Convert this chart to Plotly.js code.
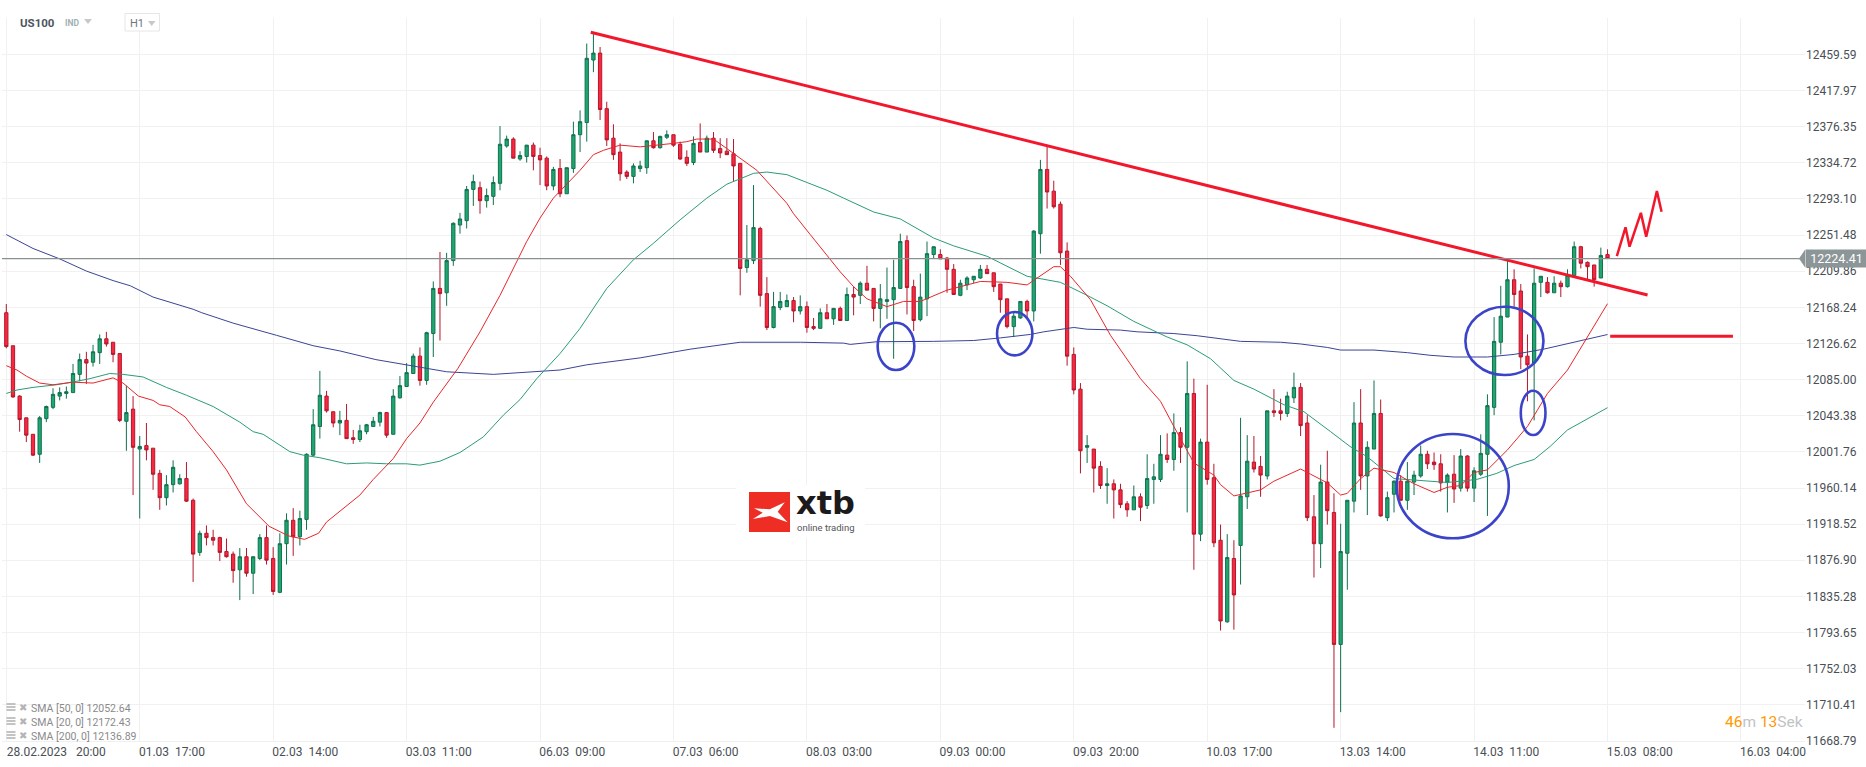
<!DOCTYPE html>
<html><head><meta charset="utf-8">
<script src="https://cdn.plot.ly/plotly-3.0.1.min.js"></script>
<style>html,body{margin:0;padding:0;background:#fff;overflow:hidden}#c{width:1866px;height:767px}</style>
</head><body><div id="c"></div>
<script>
// Hourly bars (0 = 28.02.2023 20:00)
const open_ = [12162,12124,12066,12041,12022,11999,12040,12053,12066,12069,12070,12091,12108,12105,12116,12132,12128,12115,12037,12051,
12005,12009,12006,11977,11949,11964,11965,11971,11946,11886,11908,11903,11903,11887,11884,11866,11881,11862,11879,11903,
11879,11840,11896,11923,11904,11924,11998,12031,12066,12048,12035,12038,12018,12016,12025,12031,12036,12047,12022,12064,
12077,12092,12112,12084,12138,12190,12185,12222,12263,12268,12304,12306,12291,12296,12311,12354,12362,12339,12342,12355,
12343,12340,12308,12328,12299,12328,12367,12381,12453,12461,12397,12363,12347,12324,12319,12328,12329,12360,12352,12364,
12367,12356,12341,12335,12358,12347,12363,12351,12348,12345,12334,12214,12222,12259,12184,12145,12168,12169,12176,12164,
12169,12146,12144,12162,12155,12167,12153,12183,12182,12196,12190,12167,12175,12177,12190,12245,12192,12154,12178,12229,
12229,12225,12212,12182,12194,12200,12202,12212,12208,12195,12178,12146,12156,12175,12164,12253,12327,12302,12287,12233,
12114,12074,12007,12005,11985,11963,11965,11958,11942,11935,11950,11940,11970,11970,11998,11993,12024,12007,12069,11907,
12013,11972,11900,11806,11879,11894,11950,11990,11985,11974,12049,12049,12046,12064,12076,12035,11927,11896,11967,11932,
11780,11885,11945,12035,11974,12005,12046,11926,11953,11968,11946,11967,11974,11999,11990,11988,11967,11976,11960,11997,
11960,11976,11999,12053,12128,12157,12200,12187,12112,12104,12197,12197,12185,12196,12192,12205,12238,12220,12217,12202,12229];
const high = [12172,12124,12067,12041,12022,12043,12055,12075,12076,12077,12103,12115,12117,12125,12137,12140,12128,12115,12078,12066,
12020,12035,12006,11981,11975,11992,11976,11990,11948,11911,11917,11912,11904,11902,11887,11891,11891,11881,11907,11917,
11892,11908,11931,11937,11934,12000,12051,12095,12072,12048,12049,12057,12027,12033,12034,12042,12048,12047,12074,12089,
12104,12115,12122,12140,12198,12232,12231,12266,12277,12308,12321,12313,12305,12319,12377,12366,12364,12348,12355,12358,
12352,12342,12330,12339,12329,12382,12395,12472,12483,12468,12405,12379,12357,12326,12334,12337,12360,12370,12366,12372,
12367,12359,12349,12365,12380,12366,12370,12363,12363,12362,12334,12263,12309,12261,12203,12186,12186,12183,12180,12182,
12175,12156,12167,12172,12167,12169,12191,12192,12198,12216,12190,12195,12214,12223,12253,12251,12200,12207,12244,12238,
12235,12226,12218,12200,12204,12204,12217,12217,12208,12195,12178,12163,12175,12177,12257,12338,12353,12314,12290,12243,
12122,12081,12021,12005,11991,11983,11970,11965,11945,11963,11954,11999,11988,12021,12023,12046,12030,12106,12086,12017,
12079,11988,11918,11907,11900,12041,12021,12020,11997,12049,12074,12063,12071,12093,12081,12044,11952,11987,12003,11954,
11919,11946,12059,12074,12014,12084,12062,11956,11969,11975,11990,11980,12009,12003,12001,11999,11977,11998,12005,11998,
11984,12022,12068,12157,12193,12223,12212,12195,12137,12213,12204,12203,12204,12199,12212,12244,12239,12221,12217,12237,12235];
const low = [12121,12064,12025,12013,11997,11989,12036,12051,12061,12063,12070,12083,12080,12100,12103,12123,12105,12036,12003,11952,
11925,11992,11958,11935,11940,11955,11964,11944,11852,11882,11894,11894,11876,11880,11851,11831,11858,11838,11877,11872,
11837,11839,11872,11882,11894,11912,11996,12017,12047,12030,12021,12017,12011,12013,12022,12031,12031,12018,12022,12063,
12077,12092,12078,12079,12111,12130,12170,12216,12253,12259,12285,12276,12283,12286,12303,12352,12340,12337,12335,12326,
12309,12303,12303,12295,12299,12323,12347,12359,12439,12384,12354,12338,12314,12316,12311,12324,12322,12351,12351,12362,
12353,12338,12331,12332,12347,12347,12346,12340,12344,12313,12182,12208,12218,12169,12142,12144,12165,12169,12151,12160,
12139,12142,12144,12155,12148,12153,12153,12159,12172,12188,12152,12144,12155,12109,12190,12160,12141,12152,12158,12224,
12224,12185,12183,12181,12188,12196,12201,12207,12186,12162,12144,12134,12155,12156,12152,12230,12282,12282,12217,12101,
12068,11977,11989,11955,11959,11942,11925,11937,11927,11935,11922,11936,11942,11967,11989,11980,11989,11932,11866,11899,
11964,11892,11796,11805,11797,11849,11936,11978,11950,11970,12042,12038,12042,12058,12020,11922,11857,11868,11918,11684,
11702,11843,11932,11958,11929,12005,11927,11922,11932,11946,11935,11952,11972,11982,11981,11956,11932,11943,11956,11956,
11944,11974,11928,12044,12114,12157,12169,12097,12060,12038,12180,12184,12185,12180,12191,12205,12213,12200,12192,12202,12224];
const close_ = [12123,12065,12039,12021,11998,12041,12054,12068,12070,12071,12092,12108,12104,12117,12132,12126,12114,12038,12047,12007,
12008,12004,11976,11949,11964,11984,11971,11945,11884,11908,11903,11900,11886,11881,11865,11881,11862,11881,11903,11877,
11841,11896,11923,11904,11925,11999,12033,12067,12049,12035,12038,12017,12016,12026,12033,12037,12047,12021,12066,12078,
12093,12112,12084,12139,12190,12184,12222,12265,12270,12304,12313,12291,12297,12312,12356,12362,12340,12343,12355,12342,
12338,12308,12327,12299,12329,12367,12382,12455,12461,12396,12361,12344,12322,12319,12331,12331,12360,12352,12365,12367,
12355,12339,12334,12357,12347,12363,12349,12346,12344,12331,12213,12223,12260,12182,12145,12169,12175,12176,12164,12169,
12145,12144,12162,12155,12167,12153,12183,12180,12196,12188,12167,12178,12177,12191,12244,12191,12153,12180,12230,12238,
12224,12212,12183,12196,12202,12204,12212,12207,12192,12177,12146,12158,12175,12164,12256,12327,12301,12284,12231,12112,
12073,12003,12009,11983,11963,11965,11958,11941,11935,11950,11938,11971,11973,11999,11993,12024,12007,12069,11907,12013,
11970,11897,11807,11880,11837,11951,11991,11982,11975,12049,12047,12046,12066,12076,12032,11926,11896,11967,11934,11780,
11887,11946,12035,11974,12007,12046,11928,11949,11968,11946,11968,11975,11999,11988,11987,11966,11975,11959,11997,11960,
11980,12000,12055,12129,12158,12200,12183,12111,12102,12196,12204,12185,12196,12192,12205,12238,12219,12215,12200,12228,12224.41];

// Moving averages at the bar positions given
const sma20Bars = [0,1.6,3,5,7,10,13,16,17.5,19.8,22,23,24.5,26.8,28.5,31,33,35,36,39.4,42.3,44.7,46.8,48,53,55,58,60,62,64,67.7,71,74,78,80,82,86,88,89.5,92,95,100,102,103.5,106,108,110,112.5,117,118,120.5,122,125,127,129,132,134.5,137,141,146,150,153,157,158,159.5,162.5,165.5,170,173,175,178,181,182,184,188,190,194,195.5,198,200,201,203,205,208,211,214,216,218,220,222,225,228,231,234,237,240];
const sma20 = [12101,12096,12089,12081,12079,12082,12081,12087,12081,12066,12061,12056,12054,12042,12025,12002,11981,11956,11942,11916,11905,11901,11908,11921,11952,11970,11994,12017,12035,12059,12098,12140,12182,12244,12271,12294,12326,12344,12349,12355,12353,12357,12359,12362,12362,12351,12340,12326,12288,12276,12252,12238,12209,12192,12178,12169,12175,12175,12188,12198,12197,12194,12215,12215,12204,12177,12136,12086,12060,12031,11989,11975,11964,11951,11958,11968,11982,11976,11966,11952,11954,11971,11983,11978,11965,11955,11961,11963,11978,11981,12004,12031,12069,12096,12134,12172.43];
const sma50Bars = [0,1.6,4,7.5,10.5,12.5,15.5,17.5,20.5,24,27,31,35,37,38.5,41,42.5,44.5,47,51,54,57,60,62,65,68,71.5,74.5,77,79.5,83,86,90,94,97,101,105,108,112,114,117,120,123,125.5,130,134,139,142,147,153,158,162,165,169,171,174,177,180.5,184,187,191.5,194.5,198.5,201.4,204,208,216,220.4,223.4,226,229,231.4,234,237,240];
const sma50 = [12069,12073,12076,12079,12083,12086,12092,12091,12088,12076,12067,12054,12036,12025,12022,12010,12002,11998,11995,11988,11989,11988,11988,11986.5,11991,12001,12019,12044,12062,12086,12115,12144,12190,12223,12242,12269,12294,12310,12322.5,12324,12321,12312,12303,12294,12278,12270,12248,12239,12227,12204,12197,12182,12170,12152,12145,12134,12125,12109,12084,12074,12056,12048,12025,12008,11996,11971,11966.5,11970,11977,11986,11993,12008,12027,12040,12052.64];
const sma200Bars = [0,4,8,12,16,18.6,22,28,29.3,34,40.5,46,50,55.4,60.7,66,73,80,83,87,95,102.5,110,119,125.5,126.5,130.5,139,145,149,153.5,155.5,160,162,167,169.5,175,178.5,185,191,194,198,200,205,210,213.4,217,222,226,230.4,234.4,240];
const sma200 = [12252,12236,12224,12210,12199,12193,12180,12166,12162,12150,12136,12124,12118,12108,12101,12094,12091,12094,12096,12102,12110,12120,12128,12128,12127,12125.5,12128.6,12129,12130,12133,12137,12140,12145,12143,12142,12140,12138,12135.5,12129,12128,12126,12122,12119,12119,12116,12113,12111,12111,12114,12120,12127,12136.89];

// Hand-drawn analysis marks
const trendBars = [87.6,246], trendPrices = [12485,12182.4];
const levelBars = [240.4,258.8], levelPrices = [12134.8,12134.8];
const zigBars = [241.4,242.7,243.3,245,245.8,247.4,248.1];
const zigPrices = [12227.3,12260.3,12238,12277,12249.5,12302,12278.3];
const circleBars = [[130.6,136.1],[148.5,153.8],[218.7,230.4],[227,230.7],[208.4,225.2]];
const circlePrices = [[12150.5,12096],[12162.8,12112.9],[12168.9,12090.2],[12072.2,12021.1],[12022.3,11902.2]];

// Axis labels
const xTickBars = [0,20,40,60,80,100,120,140,160,180,200,220,240,260];
const xTickLabels = ['28.02.2023   20:00','01.03  17:00','02.03  14:00','03.03  11:00','06.03  09:00','07.03  06:00','08.03  03:00','09.03  00:00','09.03  20:00','10.03  17:00','13.03  14:00','14.03  11:00','15.03  08:00','16.03  04:00'];
const yTickVals = [12459.59,12417.97,12376.35,12334.72,12293.10,12251.48,12209.86,12168.24,12126.62,12085.00,12043.38,12001.76,11960.14,11918.52,11876.90,11835.28,11793.65,11752.03,11710.41,11668.79];
const legendLines = ['SMA [50, 0] 12052.64','SMA [20, 0] 12172.43','SMA [200, 0] 12136.89'];
const lastPrice = 12224.41;

const bars = open_.map((_, i) => i);
const L = 2, R = 1805, T = 18, B = 741;
const W = 1866, H = 767;
const px = x => (x - L) / (R - L), py = y => (B - y) / (B - T);
const F = 'Roboto, sans-serif';
const nb = s => s.replace(/ /g, '\u00a0');
// Labels start at their gridline, as in the reference: all share one box width, padded on the right
const tickText = xTickLabels.map((t, i) => nb(t) + (i === 0 ? '' : '\u00a0'.repeat(12)));

const line = (x, y, color, width, name) => ({type:'scatter', mode:'lines', x, y, name, hoverinfo:'skip', line:{color, width}});
const traces = [
  {type:'candlestick', x:bars, open:open_, high, low, close:close_, name:'US100', hoverinfo:'skip',
   whiskerwidth:0,
   increasing:{line:{color:'#0f7050', width:1}, fillcolor:'#20a76f'},
   decreasing:{line:{color:'#b2172c', width:1}, fillcolor:'#f9283f'}},
  line(sma200Bars, sma200, '#3a4496', 1, 'SMA 200'),
  line(sma50Bars, sma50, '#2b9b78', 1, 'SMA 50'),
  line(sma20Bars, sma20, '#e8262c', 1, 'SMA 20'),
  line(trendBars, trendPrices, '#f3172b', 3, 'Trend'),
  line(levelBars, levelPrices, '#f3172b', 3, 'Level'),
  line(zigBars, zigPrices, '#f3172b', 2.5, 'Path')
];

const shapes = [
  {type:'line', xref:'paper', yref:'y', x0:0, x1:1, y0:lastPrice, y1:lastPrice, line:{color:'#8a8f8f', width:1.2}},
  {type:'path', xref:'paper', yref:'y', path:`M 1,${lastPrice+10} L ${px(1799)},${lastPrice} L 1,${lastPrice-10} Z`, fillcolor:'#8c9698', line:{width:0}},
  // logo
  {type:'rect', xref:'paper', yref:'paper', x0:px(736), x1:px(865), y0:py(538), y1:py(485), fillcolor:'#fff', line:{width:0}},
  {type:'rect', xref:'paper', yref:'paper', x0:px(749), x1:px(790), y0:py(532), y1:py(492), fillcolor:'#ee2e24', line:{width:0}},
  {type:'path', xref:'paper', yref:'paper', fillcolor:'#fff', line:{width:0},
   path:'M '+[[754,508.3],[769.8,509.3],[784.8,502.3],[777.7,511.7],[787.6,522.3],[769.8,516],[752.8,519],[762.7,512.7]].map(p=>px(p[0])+','+py(p[1])).join(' L ')+' Z'},
  // header
  {type:'path', xref:'paper', yref:'paper', fillcolor:'#c4c9cc', line:{width:0}, path:`M ${px(84)},${py(19)} L ${px(92)},${py(19)} L ${px(88)},${py(24)} Z`},
  {type:'rect', xref:'paper', yref:'paper', x0:px(125), x1:px(159.5), y0:py(31), y1:py(13.5), fillcolor:'#fff', line:{color:'#e6e6e6', width:1}},
  {type:'path', xref:'paper', yref:'paper', fillcolor:'#c4c9cc', line:{width:0}, path:`M ${px(148)},${py(21)} L ${px(155.5)},${py(21)} L ${px(151.7)},${py(26)} Z`}
];
circleBars.forEach((c, i) => shapes.push({type:'circle', xref:'x', yref:'y', x0:c[0], x1:c[1], y0:circlePrices[i][0], y1:circlePrices[i][1], line:{color:'#3b44c9', width:2.6}}));
// legend icons
[708, 722, 736].forEach(y => {
  [-3,0,3].forEach(d => shapes.push({type:'line', xref:'paper', yref:'paper', x0:px(6.5), x1:px(15.5), y0:py(y+d-1), y1:py(y+d-1), line:{color:'#b4b4b4', width:1.6}}));
});

const note = (x, y, text, size, color, extra) => Object.assign({xref:'paper', yref:'paper', x:px(x), y:py(y), text, showarrow:false, xanchor:'left', yanchor:'middle', font:{family:F, size, color}}, extra || {});
const annotations = [
  note(18, 23, '<b>US100</b>', 11.5, '#4c5660'),
  note(62.5, 23.5, '<b>IND</b>', 8.5, '#9fb0b6'),
  note(127.5, 23.5, 'H1', 11, '#6f767b'),
  note(1723, 722, '<span style="color:#ff9900">46</span>m <span style="color:#ff9900">13</span>Sek', 15.5, '#bfc3c6'),
  note(794, 503, '<b>xtb</b>', 32, '#1c1a1a', {font:{family:'DejaVu Sans, sans-serif', size:32, color:'#1c1a1a'}}),
  note(795, 527.5, 'online trading', 9.5, '#555555'),
  {xref:'paper', yref:'y', x:1, y:lastPrice, xanchor:'left', yanchor:'middle', xshift:0, showarrow:false, text:'12224.41', width:61, height:17, bgcolor:'#8c9698', borderpad:0, align:'center', font:{family:F, size:12.5, color:'#ffffff'}}
];
legendLines.forEach((t, i) => {
  annotations.push(note(29, 708 + i*14, t, 10.5, '#8a8a8a'));
  annotations.push(note(17, 707 + i*14, '\u2716', 10, '#b4b4b4', {font:{family:'DejaVu Sans', size:10, color:'#b4b4b4'}}));
});

const layout = {
  width:W, height:H, paper_bgcolor:'#fff', plot_bgcolor:'#fff', showlegend:false,
  margin:{l:L, r:W-R, t:T, b:H-B, pad:0},
  xaxis:{type:'linear', range:[-0.645,269.6], rangeslider:{visible:false}, tickmode:'array', tickvals:xTickBars, ticktext:tickText,
    ticklabelshift:50, ticklabeloverflow:'allow', tickangle:0, ticklen:0, showgrid:true, gridcolor:'#f1f1f1', gridwidth:1, zeroline:false,
    showline:true, linecolor:'#f0f0f0', linewidth:1, tickfont:{family:F, size:12, color:'#4a4f55'}},
  yaxis:{side:'right', range:[11668.79,12501.4], tickmode:'array', tickvals:yTickVals, ticktext:yTickVals.map(v=>v.toFixed(2)), ticklen:0,
    showgrid:true, gridcolor:'#f1f1f1', gridwidth:1, zeroline:false, showline:false, ticklabeloverflow:'allow', tickfont:{family:F, size:12, color:'#4a4f55'}},
  shapes, annotations
};
Plotly.newPlot('c', traces, layout, {displayModeBar:false, staticPlot:true});
</script></body></html>
